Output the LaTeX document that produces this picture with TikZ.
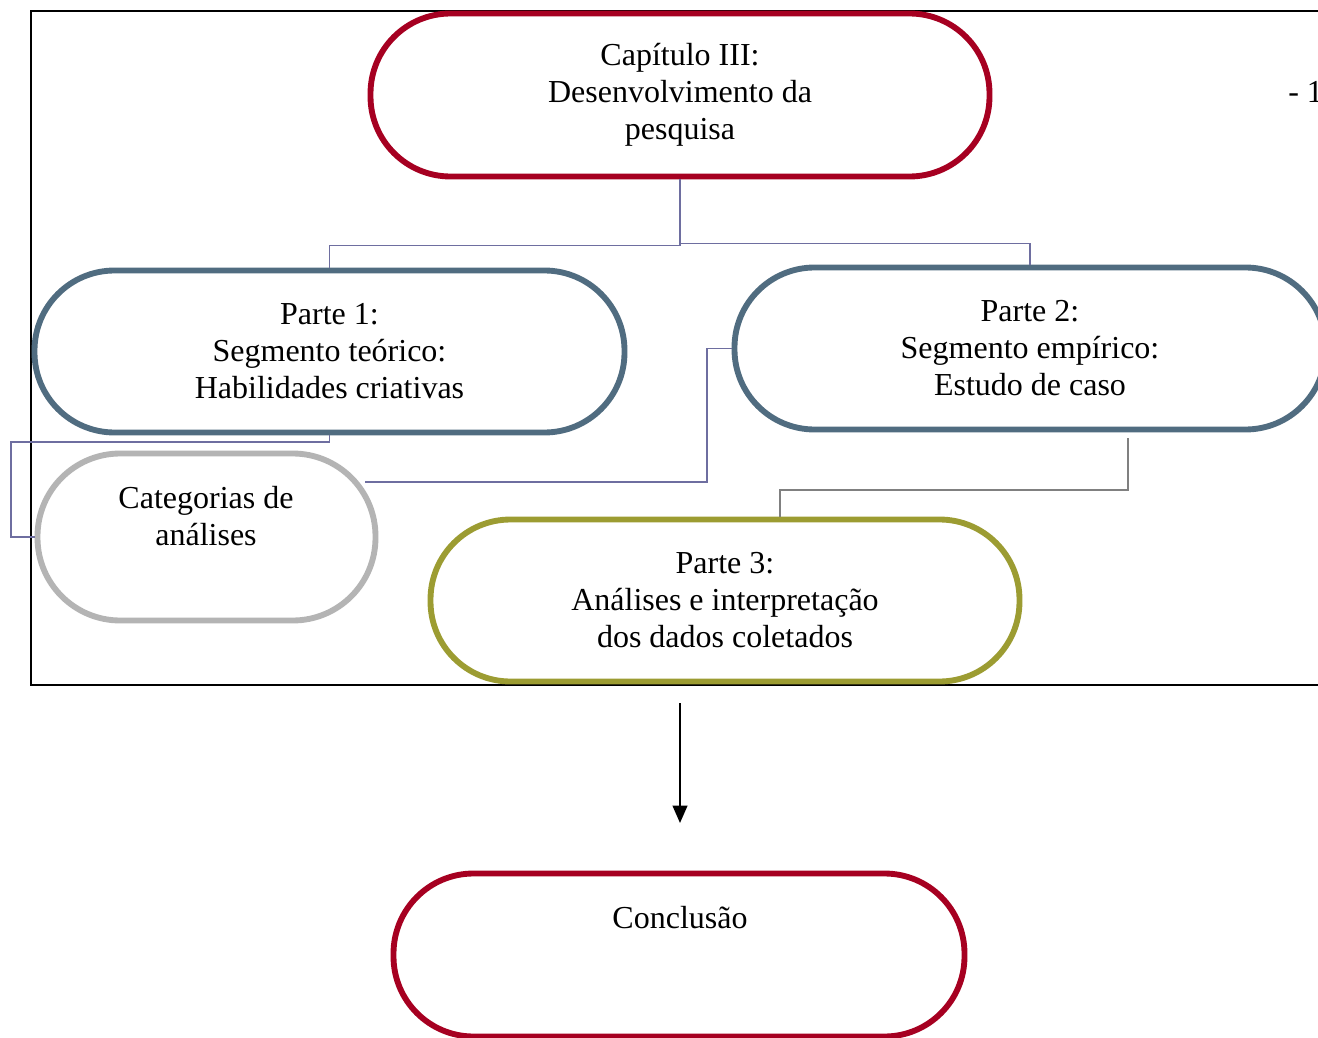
\documentclass[tikz,border=0pt]{standalone}
\usepackage{fontspec}
\setmainfont{Liberation Serif}
\usetikzlibrary{arrows.meta}
\definecolor{cred}{RGB}{166,0,33}
\definecolor{cslate}{RGB}{80,108,128}
\definecolor{colive}{RGB}{156,156,50}
\definecolor{cgray}{RGB}{180,180,180}
\definecolor{cpurple}{RGB}{110,110,160}
\definecolor{cgline}{RGB}{128,128,128}
\begin{document}
\begin{tikzpicture}[x=0.75pt,y=-0.75pt,
  stad/.style={draw, fill=white, line width=4.4pt, inner sep=0pt, align=center,
    font=\fontsize{24}{27.75}\selectfont, rounded corners=60pt},
  txt/.style={align=center, inner sep=0pt, font=\fontsize{24}{27.75}\selectfont},
  conn/.style={draw=cpurple, line width=1.2pt},
  gconn/.style={draw=cgline, line width=1.2pt},
  arr/.style={draw=black, line width=1.5pt, -{Triangle[length=13pt,width=11pt]}}
]
\useasboundingbox (0,0) rectangle (1318,1038);
\clip (0,0) rectangle (1318,1038);
\fill[white] (0,0) rectangle (1318,1038);

\draw[line width=1.3pt] (31,11) rectangle (1340,685);

\node[stad, draw=cred, minimum width=464.25pt, minimum height=122.25pt] (cap) at (680,95)
  {\rule{0pt}{3pt}Capítulo III:\\Desenvolvimento da\\pesquisa};
\node[stad, draw=cslate, minimum width=442.5pt, minimum height=121.5pt] (p1) at (329.5,351.5)
  {Parte 1:\\Segmento teórico:\\Habilidades criativas};
\node[stad, draw=cslate, minimum width=443.25pt, minimum height=121.5pt] (p2) at (1030,348.5)
  {Parte 2:\\Segmento empírico:\\Estudo de caso};
\node[stad, draw=cgray, minimum width=253.5pt, minimum height=125.25pt, rounded corners=62pt] (cat) at (206.5,537) {};
\node[txt] (cattxt) at (206,516) {Categorias de\\análises};
\node[stad, draw=colive, minimum width=441.75pt, minimum height=121.5pt] (p3) at (725,600.5)
  {Parte 3:\\Análises e interpretação\\dos dados coletados};
\node[stad, draw=cred, minimum width=428.25pt, minimum height=122.25pt] (conc) at (679,955) {};
\node[txt] (conctxt) at (680,918) {Conclusão};

\node[txt, anchor=west] (pg) at (1288,92) {- 1};

% connectors
\draw[conn] (cap.south) -- ++(0,66) -| (p1.north);
\draw[conn] (cap.south) -- ++(0,64) -| (p2.north);
\coordinate (k1) at (11,442);
\draw[conn] (p1.south) |- (k1) |- (cat.west);
\coordinate (c1) at (365,482);
\coordinate (k2) at (707,482);
\draw[conn] (c1) -- (k2) |- (p2.west);
\coordinate (g1) at (1128,438);
\coordinate (g2) at (780,490);
\draw[gconn] (g1) |- (g2) -- (g2 |- p3.north);
\coordinate (a1) at (680,703);
\coordinate (a2) at (680,823);
\draw[arr] (a1) -- (a2);
\end{tikzpicture}
\end{document}
